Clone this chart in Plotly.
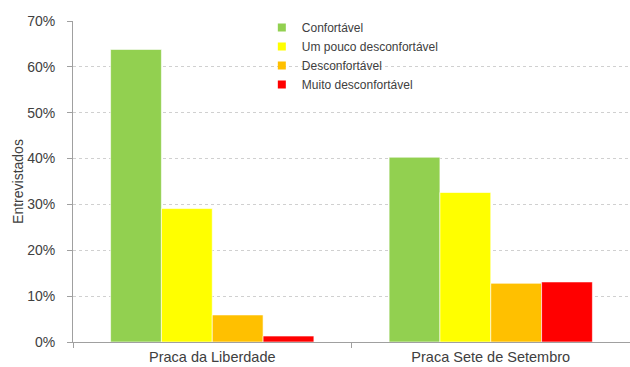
import plotly.graph_objects as go

categories = ["Praca da Liberdade", "Praca Sete de Setembro"]
series_names = ["Confortável", "Um pouco desconfortável", "Desconfortável", "Muito desconfortável"]
confortavel = [63.8, 40.3]
um_pouco = [29.1, 32.6]
desconfortavel = [5.9, 12.8]
muito = [1.3, 13.1]
colors = ["#92D050", "#FFFF00", "#FFC000", "#FF0000"]
tick_vals = [0, 10, 20, 30, 40, 50, 60, 70]
tick_text = ["0%", "10%", "20%", "30%", "40%", "50%", "60%", "70%"]

values = [confortavel, um_pouco, desconfortavel, muito]

fig = go.Figure()
for name, vals, col in zip(series_names, values, colors):
    fig.add_trace(go.Bar(
        x=categories, y=vals, name=name, showlegend=False,
        marker=dict(color=col, line=dict(color="rgba(255,255,255,0.6)", width=1)),
    ))
for name, col in zip(series_names, colors):
    fig.add_trace(go.Scatter(
        x=[None], y=[None], mode="markers", name=name,
        marker=dict(symbol="square", size=8, color=col),
    ))

fig.update_layout(
    width=630, height=367,
    margin=dict(l=73, r=0, t=21, b=25),
    plot_bgcolor="white", paper_bgcolor="white",
    barmode="group", bargap=0.27, bargroupgap=0,
    font=dict(family="Liberation Sans, Arial, sans-serif", size=14, color="#404040"),
    legend=dict(
        x=0.339, y=1.025, xanchor="left", yanchor="top",
        bgcolor="rgba(0,0,0,0)", font=dict(size=12, color="#404040"),
        tracegroupgap=0, itemwidth=30,
    ),
    xaxis=dict(
        showline=True, linecolor="#A0A0A0", linewidth=1,
        ticks="outside", tickson="boundaries", ticklen=5, tickcolor="#A0A0A0",
        showgrid=False, tickfont=dict(size=14.5, color="#404040"),
        ticklabelstandoff=2, automargin=False,
    ),
    yaxis=dict(
        range=[0, 70], tickvals=tick_vals, ticktext=tick_text,
        showline=True, linecolor="#A0A0A0", linewidth=1,
        ticks="outside", ticklen=5, tickcolor="#A0A0A0",
        showgrid=True, gridcolor="#D0D0D0", griddash="dot", gridwidth=1,
        zeroline=False, ticklabelstandoff=9, automargin=False,
        title=dict(text="Entrevistados", font=dict(size=14, color="#404040"), standoff=0),
        tickfont=dict(size=14, color="#404040"),
    ),
)

fig.write_html("out.html")
